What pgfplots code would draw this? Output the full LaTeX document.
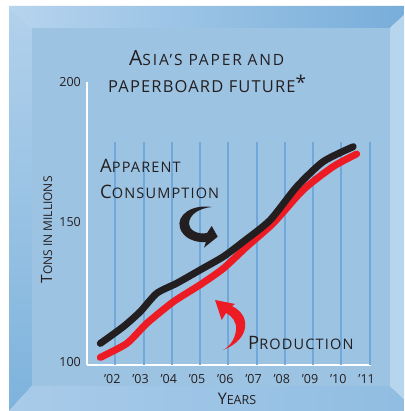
\documentclass[border=0pt]{standalone}
\usepackage{fontspec}
\setmainfont{Open Sans}
\newfontfamily\titlefont[LetterSpace=12]{Open Sans}
\newfontfamily\titlefontb[LetterSpace=7]{Open Sans}
\newfontfamily\lsfont[LetterSpace=8]{Open Sans}
\usepackage{pgfplots}
\pgfplotsset{compat=1.18}
\definecolor{panel}{HTML}{9DC3E3}
\definecolor{gridc}{HTML}{70A9D9}
\definecolor{topL}{HTML}{B6D4EE}
\definecolor{topR}{HTML}{78AEDA}
\definecolor{leftT}{HTML}{B2D1EC}
\definecolor{leftB}{HTML}{7EB3DC}
\definecolor{botL}{HTML}{A9CBE9}
\definecolor{botR}{HTML}{90BDE2}
\definecolor{rightc}{HTML}{B8D5EE}
\definecolor{redc}{HTML}{ED1C24}
\definecolor{blackc}{HTML}{231F20}
\newcommand\fs[1]{\fontsize{#1}{#1}\selectfont}
\begin{document}
\begin{tikzpicture}
\useasboundingbox (0,0) rectangle (404pt,411pt);
\fill[white] (0,0) rectangle (404pt,411pt);
\begin{scope}[x=1pt,y=1pt]
 \fill[panel] (32,25) rectangle (390,383);
 \shade[left color=topL, right color=topR] (9,405) -- (404,405) -- (404,396) -- (390,383) -- (32,383) -- cycle;
 \shade[top color=leftT, bottom color=leftB] (9,405) -- (32,383) -- (32,25) -- (9,0) -- cycle;
 \shade[left color=botL, right color=botR] (9,0) -- (32,25) -- (390,25) -- (404,12) -- (404,0) -- cycle;
 \fill[rightc] (390,383) -- (404,396) -- (404,12) -- (390,25) -- cycle;
\end{scope}
\begin{axis}[at={(87pt,46pt)}, anchor=south west, scale only axis,
  width=284pt, height=283pt,
  xmin=2001, xmax=2011.05, ymin=99, ymax=200,
  axis x line*=bottom, axis y line*=left,
  axis line style={white, line width=1.5pt, -},
  x axis line style={-}, y axis line style={-},
  xtick={2002,2003,2004,2005,2006,2007,2008,2009,2010,2011},
  xticklabels={’02,’03,’04,’05,’06,’07,’08,’09,’10,’11},
  ytick={100,150,200}, yticklabels={100,150,200},
  major tick length=0pt,
  tick label style={font=\fs{12.5}, inner sep=0pt, text=blackc},
  yticklabel style={anchor=east, xshift=-6pt},
  xticklabel style={anchor=north, yshift=-9pt, xshift=-3pt},
  clip=true]
\addplot[ycomb, gridc, line width=2pt, mark=none] coordinates {
 (2002,178.6) (2003,178.6) (2004,178.6) (2005,178.6) (2006,178.6)
 (2007,178.6) (2008,178.6) (2009,178.6) (2010,178.6) (2011,178.6)};
\addplot[redc, line width=7pt, line cap=round, line join=round, smooth, tension=0.4, mark=none] coordinates {
 (2001.47,101.7) (2002.41,106.7) (2003.12,113.9) (2004.06,121.6) (2005.00,127.6)
 (2005.83,133.5) (2006.65,141.2) (2007.59,149.6) (2008.65,161.5) (2009.71,169.8) (2010.54,174.3)};
\addplot[blackc, line width=7pt, line cap=round, line join=round, smooth, tension=0.4, mark=none] coordinates {
 (2001.47,106.7) (2002.29,112.7) (2002.88,118.0) (2003.47,124.6) (2004.18,128.2) (2005.00,132.9)
 (2005.83,137.7) (2006.53,143.0) (2007.48,150.7) (2008.42,162.6) (2009.36,171.6) (2010.42,176.9)};
\end{axis}
\begin{scope}[x=1pt,y=1pt]
 \fill[blackc] (212,204) .. controls (192,207) and (176,196) .. (180,183)
   .. controls (183,173) and (195,168) .. (206,169) -- (204,163.3) -- (217.7,174.3) -- (211.7,185) -- (207,178)
   .. controls (198,176) and (189,181) .. (189,187) .. controls (189,197) and (200,203) .. (212,204) -- cycle;
 \fill[redc] (223,61) .. controls (236,66) and (247,76) .. (245,89)
   .. controls (244,97) and (238,102) .. (232,105) -- (235,107) -- (215,111) -- (221.7,91) -- (226,98)
   .. controls (232,95) and (237,89) .. (236,81) .. controls (235,71) and (229,64) .. (223,61) -- cycle;
 \node[anchor=base west, inner sep=0pt, text=blackc] at (129,345) {\titlefont\fs{21}A\fs{15.5}SIA’S PAPER AND};
 \node[anchor=base west, inner sep=0pt, text=blackc] at (108,318.3) {\titlefontb\fs{16.5}PAPERBOARD FUTURE\raisebox{3pt}{\fs{19}*}};
 \node[anchor=base west, inner sep=0pt, text=blackc] at (100,238) {\lsfont\fs{18.5}A\fs{14.5}PPARENT};
 \node[anchor=base west, inner sep=0pt, text=blackc] at (100,212) {\lsfont\fs{18.5}C\fs{14.5}ONSUMPTION};
 \node[anchor=base west, inner sep=0pt, text=blackc] at (248,61) {\lsfont\fs{18.5}P\fs{14.5}RODUCTION};
 \node[anchor=base, inner sep=0pt, text=blackc] at (237,6) {\fs{16}Y\fs{12.5}EARS};
 \node[anchor=base, inner sep=0pt, text=blackc, rotate=90] at (52,181) {\fs{15.5}T\fs{12}ONS IN MILLIONS};
\end{scope}
\end{tikzpicture}
\end{document}
